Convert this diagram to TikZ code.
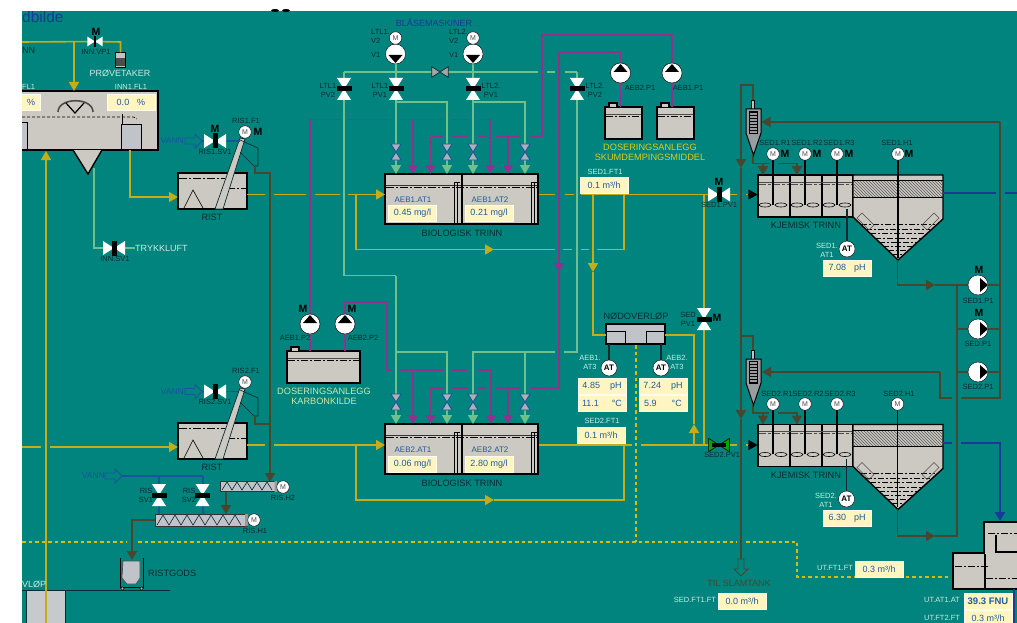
\documentclass[tikz,border=0pt]{standalone}
\usepackage{fontspec}
\setmainfont{Liberation Sans}
\usepackage{tikz}
\usetikzlibrary{arrows.meta, patterns, positioning}
\definecolor{plantbg}{RGB}{0,132,125}
\definecolor{tankgray}{RGB}{204,201,195}
\definecolor{chambergray}{RGB}{192,196,200}
\definecolor{cream}{RGB}{255,245,192}
\definecolor{dispblue}{RGB}{32,90,160}
\definecolor{pipeyellow}{RGB}{198,172,24}
\definecolor{dotyellow}{RGB}{215,190,10}
\definecolor{pipegreen}{RGB}{112,192,140}
\definecolor{pipepurple}{RGB}{142,50,142}
\definecolor{pipebrown}{RGB}{72,70,44}
\definecolor{pipeblue}{RGB}{26,58,150}
\definecolor{vannblue}{RGB}{24,84,160}
\definecolor{lbldark}{RGB}{4,44,48}
\definecolor{lblpale}{RGB}{205,235,225}
\definecolor{lblyellow}{RGB}{222,205,20}
\definecolor{lblkarbon}{RGB}{205,232,170}

\begin{document}
\begin{tikzpicture}[x=1pt, y=-1pt, >={Triangle[length=9pt,width=10pt]},
    tank/.style={rectangle, draw=black, line width=1.4pt, fill=tankgray, inner sep=0pt, outer sep=0pt, anchor=north west},
    disp/.style={rectangle, draw=white!70!cream, line width=0.8pt, fill=cream, text=dispblue, inner sep=0pt, minimum width=48pt, minimum height=16pt, font=\fontsize{9}{10}\selectfont},
    lbl/.style={inner sep=0pt, align=center, text=lbldark, font=\fontsize{7.5}{9}\selectfont},
    palelbl/.style={lbl, text=lblpale},
    bluelbl/.style={lbl, text=dispblue, font=\fontsize{8}{9}\selectfont},
    biglbl/.style={inner sep=0pt, align=center, text=lbldark, font=\fontsize{9.2}{10.2}\selectfont},
    vannlbl/.style={inner sep=0pt, text=vannblue, font=\fontsize{8.5}{9}\selectfont},
    mmark/.style={inner sep=0pt, text=black, font=\fontsize{10.5}{11}\bfseries\selectfont},
    motor/.style={circle, draw=black, fill=white, minimum size=12.5pt, inner sep=0pt, text=black!70, font=\fontsize{7}{8}\selectfont},
    atnode/.style={circle, draw=black, fill=white, minimum size=16pt, inner sep=0pt, text=black, font=\fontsize{8}{8}\bfseries\selectfont},
    pumpup/.style={circle, draw=black, fill=white, minimum size=20pt, inner sep=0pt, path picture={\fill[black] (-7,-1)--(7,-1)--(0,-9)--cycle;}},
    pumpdown/.style={circle, draw=black, fill=white, minimum size=20pt, inner sep=0pt, path picture={\fill[black] (-7,1)--(7,1)--(0,9)--cycle;}},
    pumpright/.style={circle, draw=black, fill=white, minimum size=20pt, inner sep=0pt, path picture={\fill[black] (2,-7)--(2,7)--(10,0)--cycle;}},
    ypipe/.style={draw=pipeyellow, line width=1.6pt},
    gpipe/.style={draw=pipegreen, line width=1.5pt},
    ppipe/.style={draw=pipepurple, line width=1.7pt},
    bpipe/.style={draw=pipebrown, line width=1.8pt},
    wpipe/.style={draw=pipeblue, line width=1.6pt},
    vpipe/.style={draw=vannblue, line width=1.3pt},
    dotpipe/.style={draw=dotyellow, line width=2pt, dash pattern=on 3.5pt off 3pt},
    bowtie/.pic={\path[pic actions] (-11,-7)--(11,7)--(11,-7)--(-11,7)--cycle;},
    hvalve/.pic={\fill[white] (-11,-7)--(11,7)--(11,-7)--(-11,7)--cycle; \fill[black] (-2.5,-7.5) rectangle (2.5,7.5);},
    hourglass/.pic={\path[fill=chambergray!90!black, draw=vannblue, line width=0.8pt] (-5,-8)--(5,-8)--(-5,8)--(5,8)--cycle;},
    openarrow/.pic={\path[pic actions, line width=0.9pt] (0,-3)--(10,-3)--(10,-7)--(17,0)--(10,7)--(10,3)--(0,3)--cycle;},
    ristmark/.pic={
      \draw[black, line width=0.6pt] (6,35)--(15,17)--(25,35);
      \draw[black, line width=0.7pt, dash pattern=on 8pt off 2pt on 2pt off 2pt] (1,5)--(47,5) (49,15)--(68,15);
      \draw[lbldark, fill=tankgray, line width=0.7pt] (37,36)--(45,36)--(67,-34)--(62,-35)--cycle;
      \draw[lbldark, line width=0.7pt] (62,-33)--(80,-25)--(80,-7)--(76,-7)--(62,-21);},
    biomark/.pic={
      \draw[black!80, line width=0.6pt] (1,11)--(152,11);
      \draw[black, line width=0.7pt, dash pattern=on 8pt off 2pt on 2pt off 2pt] (1,13)--(152,13);
      \draw[black, line width=2pt] (77,0)--(77,50);
      \draw[black, line width=0.7pt] (69,50)--(69,8)--(75,8) (72,8)--(72,50) (146,50)--(146,8)--(152,8) (149,8)--(149,50);},
    kjemmark/.pic={
      \draw[black, line width=1.4pt, fill=tankgray] (95,0)--(185,0)--(185,44)--(140,85)--(95,42)--cycle;
      \fill[tankgray] (95.7,6) rectangle (184.3,22);
      \fill[pattern=north west lines, pattern color=black!65] (95.7,6) rectangle (184.3,22);
      \draw[black, line width=0.8pt] (95,5.5)--(185,5.5) (95,22)--(185,22);
      \draw[black, line width=0.7pt, dash pattern=on 6pt off 2pt on 2pt off 2pt] (103,49)--(177,49) (108,54)--(172,54) (112,58)--(168,58) (117,63)--(163,63) (121,67)--(159,67) (125,71)--(155,71) (130,75)--(150,75) (134,79)--(146,79);
      \draw[black!70, line width=0.6pt] (99,43)--(104,38)--(116,50)--(111,55)--cycle (181,43)--(176,38)--(164,50)--(169,55)--cycle;
      \draw[black, line width=1.4pt] (32,0)--(32,42) (64,0)--(64,42);
      \draw[black!70, line width=0.8pt, dash pattern=on 7pt off 2pt on 3pt off 2pt] (1,9)--(31,9) (33,9)--(63,9) (65,9)--(94,9);
      \draw[black!70, line width=0.6pt] (1,7)--(94,7);
      \draw[black, line width=0.6pt] (7,30) ellipse (6 and 2) (23,30) ellipse (6 and 2) (39,30) ellipse (6 and 2) (55,30) ellipse (6 and 2) (71,30) ellipse (6 and 2) (87,30) ellipse (6 and 2);},
    dosemark/.pic={
      \draw[black, line width=1.2pt, fill=tankgray] (4,0)--(4,-4)--(12,-4)--(12,0);
      \draw[black!70, line width=0.7pt] (1,7)--(#1,7);
      \draw[black, line width=0.6pt, dash pattern=on 7pt off 2pt on 2pt off 2pt] (1,9)--(#1,9);},
    lamella/.pic={
      \draw[black, fill=chambergray, line width=0.6pt] (-1.5,0) rectangle (1.5,9);
      \draw[black, fill=chambergray!80!black, line width=1pt] (-7,9)--(8,9)--(8,33)--(0.5,55)--(-7,33)--cycle;
      \fill[pattern=horizontal lines, pattern color=black] (-4,11) rectangle (4,33);
      \draw[black, line width=0.5pt] (-4,11) rectangle (4,33);}
  ]
  \useasboundingbox (0,0) rectangle (1017,623);
  \fill[white] (0,0) rectangle (1017,623);
  \fill[plantbg] (22,11) rectangle (1017,623);

  % tanks
  \node[tank, minimum width=150pt, minimum height=59pt] (inn) at (8,91) {};
  \draw[black, fill=tankgray, line width=1.4pt] (73,150)--(88,174)--(102,150);
  \draw[black!70, line width=1.6pt] (58,112) .. controls (58,97) and (93,97) .. (93,112);
  \draw[black, line width=1.2pt] (66,103)--(75,113)--(84,103);
  \draw[black, line width=0.7pt, densely dashed] (22,117)--(133,117) .. controls (135,117) and (136,118) .. (137,119);
  \draw[black, line width=1pt] (122,114)--(122,125);
  \node[tank, fill=chambergray, line width=0.9pt, minimum width=20pt, minimum height=25pt] (innch) at (121,124) {};
  \node[tank, fill=chambergray, line width=0.9pt, minimum width=12pt, minimum height=27pt] (innchb) at (15,122) {};
  \node[tank, minimum width=69pt, minimum height=36pt] (ris1) at (178,173) {};
  \node[tank, minimum width=69pt, minimum height=36pt] (ris2) at (178,423) {};
  \node[tank, minimum width=153pt, minimum height=50pt] (bio1) at (385,174) {};
  \node[tank, minimum width=153pt, minimum height=50pt] (bio2) at (385,424) {};
  \node[tank, minimum width=95pt, minimum height=42pt] (kje1) at (758,175) {};
  \node[tank, minimum width=95pt, minimum height=42pt] (kje2) at (758,424.5) {};
  \node[tank, minimum width=37pt, minimum height=32pt] (dos2) at (605,107) {};
  \node[tank, minimum width=37pt, minimum height=32pt] (dos1) at (657,107) {};
  \node[tank, minimum width=73pt, minimum height=32pt] (kar) at (287,351) {};
  \node[tank, fill=chambergray, minimum width=59pt, minimum height=20pt] (nod) at (606,324) {};
  \pic at (178,173) {ristmark};
  \pic at (178,423) {ristmark};
  \pic at (385,174) {biomark};
  \pic at (385,424) {biomark};
  \pic at (758,175) {kjemmark};
  \pic at (758,424.5) {kjemmark};
  \pic at (605,107) {dosemark=36};
  \pic at (657,107) {dosemark=36};
  \pic at (287,351) {dosemark=72};
  \draw[black, line width=1pt] (607,331)--(625,331)--(625,343) (646,343)--(646,331)--(664,331);

  % ut tank
  \draw[black, fill=tankgray, line width=1.4pt] (1030,522)--(984,522)--(984,553)--(953,553)--(953,589)--(1030,589);
  \draw[black, line width=0.9pt, dash pattern=on 7pt off 2pt on 2pt off 2pt] (988,533)--(1020,533) (955,566)--(990,566) (986,578)--(1020,578);
  \draw[black, line width=1.2pt] (996,535)--(996,552)--(1020,552) (985,554)--(985,589);
  \draw[lbldark, line width=1pt, fill=chambergray!90!white] (26,590) rectangle (65,630);
  \draw[lbldark, line width=1pt] (22,590)--(170,590);

  % yellow pipes
  \coordinate (ris1out) at (247,194.5);
  \coordinate (bio1in) at (385,194.5);
  \coordinate (bio1out) at (539,194.5);
  \coordinate (sedv1) at (719,194.5);
  \coordinate (ris2out) at (247,445);
  \coordinate (bio2in) at (385,445);
  \coordinate (bio2out) at (539,445);
  \coordinate (sedv2) at (719,445);
  \coordinate (vp1) at (95,41.5);
  \coordinate (innsv) at (114,248);
  \coordinate (ris1sv) at (215,141);
  \coordinate (ris2sv) at (215,391.5);
  \coordinate (rissv1) at (159,495);
  \coordinate (rissv2) at (202.5,495);
  \coordinate (ltl1v2) at (344,89);
  \coordinate (ltl1v1) at (396,89);
  \coordinate (ltl2v1) at (473,89);
  \coordinate (ltl2v2) at (577,89);
  \coordinate (crossv) at (440,72);
  \coordinate (sedpv) at (704,319);
  \node[rectangle, draw=black, fill=chambergray, minimum width=10pt, minimum height=15pt, inner sep=0pt] (prove) at (120.5,60) {};
  \fill[black!70] (116,58) rectangle (125,66);
  \draw[ypipe] (22,42)--(vp1)--(120.5,42)--(prove.north);
  \draw[ypipe, ->] (74,42)--(74,91);
  \draw[ypipe, ->] (46,630)--(46,151);
  \draw[ypipe, ->] (130,150)--(130,197)--(178,197);
  \draw[ypipe] (22,447)--(41,447);
  \draw[ypipe, ->] (50,447)--(178,447);
  \draw[ypipe] (ris1out)--(265,194.5) (274,194.5)--(306,194.5) (315,194.5)--(340,194.5);
  \draw[ypipe, ->] (348,194.5)--(bio1in);
  \draw[ypipe] (bio1out)--(555,194.5) (565,194.5)--(574,194.5) (581,194.5)--(sedv1)--(737,194.5) (746,194.5)--(750,194.5);
  \draw[ypipe, ->] (356,194.5)--(356,249.5)--(494,249.5);
  \draw[ypipe] (494,249.5)--(555,249.5) (563,249.5)--(572,249.5) (581,249.5)--(589,249.5) (597,249.5)--(624,249.5)--(624,194.5);
  \draw[ypipe, ->] (593,194.5)--(593,272);
  \draw[ypipe] (593,272)--(593,335)--(606,335);
  \draw[ypipe] (665,335)--(694,335)--(694,424);
  \draw[ypipe, ->] (694,445)--(694,424);
  \draw[ypipe] (704,194.5)--(704,445);
  \draw[ypipe] (ris2out)--(265,445);
  \draw[ypipe, ->] (274,445)--(bio2in);
  \draw[ypipe] (bio2out)--(632,445) (641,445)--(sedv2)--(737,445) (746,445)--(750,445);
  \draw[ypipe, ->] (356,445)--(356,500)--(494,500);
  \draw[ypipe] (494,500)--(624,500)--(624,445);
  \draw[black, ->] (748,194.5)--(757.5,194.5);
  \draw[black, ->] (748,445)--(757.5,445);

  % dotted overflow
  \draw[dotpipe] (636,345)--(636,541.5);
  \draw[dotpipe] (22,541.5)--(127,541.5) (138,541.5)--(737,541.5) (746,541.5)--(797,541.5)--(797,577)--(951,577);

  % green air pipes
  \draw[gpipe] (94,168)--(94,248)--(innsv)--(135,248);
  \draw[gpipe] (344,72)--(538,72) (547,72)--(555,72) (565,72)--(577,72);
  \draw[gpipe] (344,72)--(344,275.5)--(396,275.5);
  \draw[gpipe, ->] (396,275.5)--(396,424);
  \draw[gpipe, ->] (396,62)--(396,174);
  \draw[gpipe, ->] (396,102)--(447,102)--(447,174);
  \draw[gpipe, ->] (473,62)--(473,174);
  \draw[gpipe, ->] (473,102)--(525,102)--(525,174);
  \draw[gpipe, ->] (396,352)--(447,352)--(447,424);
  \draw[gpipe] (577,72)--(577,352)--(564,352);
  \draw[gpipe, ->] (555,352)--(473,352)--(473,424);
  \draw[gpipe, ->] (525,352)--(525,424);

  % purple dosing pipes
  \node[pumpup] (aeb1p2) at (310,324) {};
  \node[pumpup] (aeb2p2) at (345,324) {};
  \node[pumpup] (aeb2p1) at (620.5,73) {};
  \node[pumpup] (aeb1p1) at (672,73) {};
  \draw[ppipe] (aeb1p2)--(310,119.5)--(340,119.5) (348,119.5)--(391,119.5) (400,119.5)--(443,119.5) (452,119.5)--(468,119.5) (478,119.5)--(490,119.5);
  \draw[ppipe, ->] (490,119.5)--(490,174);
  \draw[ppipe, ->] (413,119.5)--(413,174);
  \draw[ppipe, ->] (443,136.5)--(430.5,136.5)--(430.5,174);
  \draw[ppipe] (452,136.5)--(468,136.5) (478,136.5)--(486,136.5) (495,136.5)--(520,136.5) (530,136.5)--(542,136.5)--(542,35)--(672,35)--(aeb1p1);
  \draw[ppipe, ->] (508,136.5)--(508,174);
  \draw[ppipe] (aeb1p1)--(672,107) (aeb2p1)--(620.5,107);
  \draw[ppipe, ->] (aeb2p1)--(620.5,52)--(559,52)--(559,272);
  \draw[ppipe] (559,272)--(559,388)--(530,388) (520,388)--(495,388) (486,388)--(478,388) (468,388)--(452,388);
  \draw[ppipe, ->] (443,388)--(430.5,388)--(430.5,424);
  \draw[ppipe, ->] (508,388)--(508,424);
  \draw[ppipe] (aeb1p2)--(310,351) (aeb2p2)--(345,351);
  \draw[ppipe] (aeb2p2)--(345,302)--(387,302)--(387,370)--(392,370) (400,370)--(443,370) (452,370)--(468,370);
  \draw[ppipe, ->] (478,370)--(491,370)--(491,424);
  \draw[ppipe, ->] (413,370)--(413,424);
  \node[pumpup] at (aeb1p2) {};
  \node[pumpup] at (aeb2p2) {};
  \node[pumpup] at (aeb2p1) {};
  \node[pumpup] at (aeb1p1) {};

  % brown sludge pipes
  \draw[bpipe, ->] (255,166)--(255,173)--(270,173)--(270,482);
  \draw[bpipe] (255,416)--(255,424)--(270,424);
  \draw[bpipe, ->] (226,491)--(226,514);
  \draw[bpipe, ->] (155,520)--(132,520)--(132,560);
  \draw[bpipe, ->] (753,109)--(753,85)--(741,85)--(741,168);
  \draw[bpipe, ->] (741,168)--(741,419);
  \draw[bpipe] (741,419)--(741,560);
  \draw[bpipe] (741,336)--(753,336)--(753,358);
  \draw[bpipe] (753,155)--(753,163.5)--(769,163.5);
  \draw[bpipe, ->] (778,163.5)--(797,163.5)--(797,175);
  \draw[bpipe, ->] (763,163.5)--(763,175);
  \draw[bpipe] (753,405)--(753,413)--(769,413);
  \draw[bpipe, ->] (778,413)--(797,413)--(797,424.5);
  \draw[bpipe, ->] (763,413)--(763,424.5);
  \draw[bpipe, ->] (1000,122)--(761.5,122);
  \draw[bpipe] (1000,122)--(1000,398)--(961,398) (952,398)--(940,398)--(940,372);
  \draw[bpipe, ->] (940,372)--(762,372);
  \draw[bpipe, ->] (897.5,260)--(897.5,285)--(935,285);
  \draw[bpipe, ->] (897.5,509)--(897.5,536)--(935,536);
  \draw[bpipe] (935,536)--(957,536)--(957,285)--(935,285);
  \draw[bpipe] (957,329)--(1000,329) (957,372)--(1000,372) (957,285)--(1000,285);
  \draw[lbldark, line width=1.4pt] (847,209)--(847,249) (846.5,458.5)--(846.5,499);
  \draw[lbldark, line width=1.3pt] (609,344)--(609,368) (661,344)--(661,368);

  % blue water pipes
  \draw[wpipe] (943,193)--(996,193) (1005,193)--(1020,193);
  \draw[wpipe] (943,442.7)--(952,442.7);
  \draw[wpipe, ->] (961,442.7)--(1000,442.7)--(1000,521);
  \draw[wpipe] (1014,589)--(1014,630);
  \draw[vpipe] (201,141)--(240,141) (201,391.5)--(238,391.5);
  \draw[vpipe] (122,476)--(203,476) (159,476)--(159,514) (203,476)--(203,514);

  % devices
  \pic at (753,100) {lamella};
  \pic at (753,350) {lamella};
  \pic[draw=vannblue] at (185,141) {openarrow};
  \pic[draw=vannblue] at (185,391.5) {openarrow};
  \pic[draw=vannblue] at (105,476) {openarrow};
  \pic[draw=pipebrown, fill=plantbg, rotate=-90] at (741,559) {openarrow};
  \pic[fill=white, scale=0.7] at (vp1) {bowtie};
  \fill[black] (93.8,36) rectangle (96.2,47);
  \pic at (innsv) {hvalve};
  \pic at (ris1sv) {hvalve};
  \pic at (ris2sv) {hvalve};
  \pic[rotate=90] at (rissv1) {hvalve};
  \pic[rotate=90] at (rissv2) {hvalve};
  \pic[rotate=90] at (ltl1v2) {hvalve};
  \pic[rotate=90] at (ltl1v1) {hvalve};
  \pic[rotate=90] at (ltl2v1) {hvalve};
  \pic[rotate=90] at (ltl2v2) {hvalve};
  \pic[rotate=90] at (sedpv) {hvalve};
  \pic at (sedv1) {hvalve};
  \pic[fill=black!35, draw=lbldark, line width=0.7pt, scale=0.75] at (crossv) {bowtie};
  \pic[fill=green!65!black, draw=black, line width=0.6pt, scale=0.95] at (sedv2) {bowtie};
  \draw[black, line width=3.5pt] (712,445)--(726,445);
  \pic at (396,152) {hourglass};
  \pic at (447,152) {hourglass};
  \pic at (473,152) {hourglass};
  \pic at (525,152) {hourglass};
  \pic at (396,402) {hourglass};
  \pic at (447,402) {hourglass};
  \pic at (473,402) {hourglass};
  \pic at (525,402) {hourglass};

  % screws and bin
  \node[rectangle, draw=black!80, fill=chambergray, minimum width=55pt, minimum height=10pt, inner sep=0pt] (rish2) at (247.5,486.5) {};
  \node[rectangle, draw=black!80, fill=chambergray, minimum width=92pt, minimum height=12pt, inner sep=0pt] (rish1) at (201,520) {};
  \draw[lbldark, line width=0.6pt] (222,490)--(227,482)--(232,490)--(237,482)--(242,490)--(247,482)--(252,490)--(257,482)--(262,490)--(267,482)--(272,490);
  \draw[lbldark, line width=0.6pt] (157,525)--(163,515)--(169,525)--(175,515)--(181,525)--(187,515)--(193,525)--(199,515)--(205,525)--(211,515)--(217,525)--(223,515)--(229,525)--(235,515)--(241,525);
  \fill[black!40] (274.5,481) rectangle (277,492) (245,514) rectangle (248,526);
  \node[motor] (mh2) at (283,487) {M};
  \node[motor] (mh1) at (254,520) {M};
  \draw[black, line width=1pt] (120.5,558)--(120.5,587)--(143.5,587)--(143.5,558);
  \draw[black!70, fill=chambergray, line width=0.6pt] (123,561)--(140,561)--(140,578)--(136,584)--(127,584)--(122,578)--cycle;
  \draw[black, fill=chambergray, line width=0.5pt] (122.5,588.5) circle (1.8) (141.5,588.5) circle (1.8);

  % blowers and pumps
  \node[pumpdown] (ltl1p) at (395.5,54) {};
  \node[pumpdown] (ltl2p) at (473,54) {};
  \node[motor] (ltl1m) at (395.5,38) {M};
  \node[motor] (ltl2m) at (473,38) {M};
  \node[pumpright] (sed1p) at (978,285) {};
  \node[pumpright] (sedp) at (978,329) {};
  \node[pumpright] (sed2p) at (978,372) {};

  % motors
  \draw[black, line width=1.4pt] (773,160)--(773,205) (805,160)--(805,205) (837,160)--(837,205) (898,160)--(898,258);
  \draw[black, line width=1.4pt] (773,410)--(773,454) (805,410)--(805,454) (837,410)--(837,454) (897.5,410)--(897.5,507);
  \node[motor] (r11) at (773,154) {M};
  \node[motor] (r12) at (805,154) {M};
  \node[motor] (r13) at (837,154) {M};
  \node[motor] (h1) at (898,154) {M};
  \node[motor] (r21) at (773,404) {M};
  \node[motor] (r22) at (805,404) {M};
  \node[motor] (r23) at (837,404) {M};
  \node[motor] (h2) at (897.5,404) {M};
  \node[motor] (ris1m) at (245,132) {M};
  \node[motor] (ris2m) at (245,382) {M};
  \node[atnode] (at11) at (847,249) {AT};
  \node[atnode] (at21) at (846.5,499) {AT};
  \node[atnode] (at13) at (609,368) {AT};
  \node[atnode] (at23) at (661,368) {AT};

  % displays
  \node[disp, minimum width=48pt] (dinn) at (131,102) {0.0\hspace{8pt}\%};
  \node[disp, minimum width=19pt, anchor=east] (dinnb) at (41,102) {\%};
  \node[disp] (d11) at (412.5,213) {0.45 mg/l};
  \node[disp] (d12) at (489,213) {0.21 mg/l};
  \node[disp] (d21) at (412.5,464) {0.06 mg/l};
  \node[disp] (d22) at (489,464) {2.80 mg/l};
  \node[disp] (dft1) at (604,185.5) {0.1 m³/h};
  \node[disp] (dft2) at (601,435) {0.1 m³/h};
  \node[disp] (da31) at (602,386) {4.85\hspace{10pt}pH};
  \node[disp] (da32) at (602,403) {11.1\hspace{13pt}°C};
  \node[disp] (db31) at (663,386) {7.24\hspace{10pt}pH};
  \node[disp] (db32) at (663,403) {5.9\hspace{15pt}°C};
  \node[disp] (dat1) at (847,268) {7.08\hspace{8pt}pH};
  \node[disp] (dat2) at (847,518) {6.30\hspace{8pt}pH};
  \node[disp] (dutft) at (879,569) {0.3 m³/h};
  \node[disp] (dsed) at (742,601) {0.0 m³/h};
  \node[disp, font=\fontsize{9.5}{10}\bfseries\selectfont] (dutat) at (988,601) {39.3 FNU};
  \node[disp] (dutf2) at (988,618) {0.3 m³/h};

  % labels
  \node[inner sep=0pt, text=pipeblue, font=\fontsize{15.5}{16}\selectfont, anchor=west] (tit) at (22,17) {dbilde};
  \node[lbl, font=\fontsize{9}{10}\selectfont, anchor=west] (vann0) at (22,50) {NN};
  \node[palelbl, anchor=west] (flb) at (22,87) {FL1};
  \node[palelbl] (fla) at (131,87) {INN1.FL1};
  \node[palelbl, font=\fontsize{9}{10}\selectfont, anchor=west] (vlp) at (22,584) {VLØP};
  \node[lbl] (lvp1) at (96,52) {INN.VP1};
  \node[palelbl, font=\fontsize{9}{10}\selectfont] (lprove) at (120,73) {PRØVETAKER};
  \node[mmark] (mvp1) at (96,32) {M};
  \node[palelbl, font=\fontsize{9}{10}\selectfont, anchor=west] (ltry) at (135,248) {TRYKKLUFT};
  \node[lbl] (lsv) at (115,259) {INN.SV1};
  \node[lbl] (lr1f) at (246,121) {RIS1.F1};
  \node[mmark] (mr1f) at (258,132) {M};
  \node[mmark] (mr1s) at (215,129) {M};
  \node[lbl] (lr1s) at (215,152) {RIS1.SV1};
  \node[lbl] (lr2f) at (246,371) {RIS2.F1};
  \node[lbl] (lr2s) at (215,402) {RIS2.SV1};
  \node[biglbl] (lrist1) at (212,217) {RIST};
  \node[biglbl] (lrist2) at (212,467) {RIST};
  \node[vannlbl, anchor=east] (lv1) at (184,141) {VANN};
  \node[vannlbl, anchor=east] (lv2) at (184,392) {VANN};
  \node[vannlbl, anchor=east] (lv3) at (105,476) {VANN};
  \node[lbl] (lsv1) at (146,495.5) {RIS\\SV1};
  \node[lbl] (lsv2) at (189,495.5) {RIS\\SV2};
  \node[lbl] (lh2) at (283,498) {RIS.H2};
  \node[lbl] (lh1) at (255,531) {RIS.H1};
  \node[biglbl, anchor=west] (lgods) at (148,573) {RISTGODS};
  \node[inner sep=0pt, text=pipeblue, font=\fontsize{9}{10}\selectfont] (lblas) at (434,23) {BLÅSEMASKINER};
  \node[lbl, anchor=west] (lb1a) at (371,32) {LTL1.};
  \node[lbl, anchor=west] (lb1b) at (371,41) {V2};
  \node[lbl, anchor=west] (lb1c) at (371,55) {V1};
  \node[lbl, anchor=west] (lb2a) at (449,32) {LTL2.};
  \node[lbl, anchor=west] (lb2b) at (449,41) {V2};
  \node[lbl, anchor=west] (lb2c) at (449,55) {V1};
  \node[lbl] (lv12) at (328,90) {LTL1\\PV2};
  \node[lbl] (lv11) at (380,90) {LTL1\\PV1};
  \node[lbl] (lv21) at (491,90) {LTL2.\\PV1};
  \node[lbl] (lv22) at (595,90) {LTL2.\\PV2};
  \node[bluelbl] (la11) at (413,200) {AEB1.AT1};
  \node[bluelbl] (la12) at (490,200) {AEB1.AT2};
  \node[bluelbl] (la21) at (413,450) {AEB2.AT1};
  \node[bluelbl] (la22) at (490,450) {AEB2.AT2};
  \node[biglbl] (lbio1) at (462,233) {BIOLOGISK TRINN};
  \node[biglbl] (lbio2) at (462,483) {BIOLOGISK TRINN};
  \node[mmark] (mp12) at (303,309) {M};
  \node[mmark] (mp22) at (352,309) {M};
  \node[lbl] (lp12) at (295,338) {AEB1.P2};
  \node[lbl] (lp22) at (363,338) {AEB2.P2};
  \node[text=lblkarbon, inner sep=0pt, align=center, font=\fontsize{9.2}{10.2}\selectfont] (lkar) at (324,396) {DOSERINGSANLEGG\\KARBONKILDE};
  \node[lbl] (lp21) at (640,88) {AEB2.P1};
  \node[lbl] (lp11) at (688,88) {AEB1.P1};
  \node[text=lblyellow, inner sep=0pt, align=center, font=\fontsize{9.2}{10.2}\selectfont] (lskum) at (650,152) {DOSERINGSANLEGG\\SKUMDEMPINGSMIDDEL};
  \node[palelbl] (lft1) at (605,172) {SED1.FT1};
  \node[palelbl] (lft2) at (602,421) {SED2.FT1};
  \node[biglbl] (lnod) at (636,316) {NØDOVERLØP};
  \node[palelbl] (lat13) at (590,362) {AEB1.\\AT3};
  \node[palelbl] (lat23) at (677,362) {AEB2.\\AT3};
  \node[lbl] (lpv) at (688,319) {SED\\PV1};
  \node[mmark] (mpv) at (717,318) {M};
  \node[mmark] (msv1) at (719,182) {M};
  \node[lbl] (lsv1p) at (719,205) {SED1.PV1};
  \node[lbl] (lsv2p) at (722,455) {SED2.PV1};
  \node[lbl] (lr11) at (775,143) {SED1.R1};
  \node[lbl] (lr12) at (807,143) {SED1.R2};
  \node[lbl] (lr13) at (839,143) {SED1.R3};
  \node[lbl] (lh11) at (897,143) {SED1.H1};
  \node[lbl] (lr21) at (777,394) {SED2.R1};
  \node[lbl] (lr22) at (808,394) {SED2.R2};
  \node[lbl] (lr23) at (840,394) {SED2.R3};
  \node[lbl] (lh21) at (899,394) {SED2.H1};
  \node[mmark] (m11) at (785,154) {M};
  \node[mmark] (m12) at (817,154) {M};
  \node[mmark] (m13) at (849,154) {M};
  \node[mmark] (m14) at (909,154) {M};
  \node[biglbl] (lkje1) at (806,225) {KJEMISK TRINN};
  \node[biglbl] (lkje2) at (806,475) {KJEMISK TRINN};
  \node[palelbl] (lat1) at (827,250) {SED1.\\AT1};
  \node[palelbl] (lat2) at (826,500) {SED2.\\AT1};
  \node[mmark] (msp1) at (979,270) {M};
  \node[mmark] (msp) at (979,313) {M};
  \node[lbl] (lsp1) at (978,301) {SED1.P1};
  \node[lbl] (lsp) at (978,344) {SED.P1};
  \node[lbl] (lsp2) at (978,387) {SED2.P1};
  \node[inner sep=0pt, text=pipebrown, font=\fontsize{9}{10}\selectfont] (ltil) at (739,583) {TIL SLAMTANK};
  \node[palelbl] (lsed) at (695,600) {SED.FT1.FT};
  \node[palelbl] (lutft) at (835,568) {UT.FT1.FT};
  \node[palelbl] (lutat) at (942,600) {UT.AT1.AT};
  \node[palelbl] (lutf2) at (942,618) {UT.FT2.FT};

  % page margins
  \fill[white] (0,0) rectangle (22,623);
  \fill[white] (0,0) rectangle (1017,11);
  \fill[black] (275,10.5) ellipse (4 and 1.5) (286,10.5) ellipse (4 and 1.5);
\end{tikzpicture}
\end{document}
